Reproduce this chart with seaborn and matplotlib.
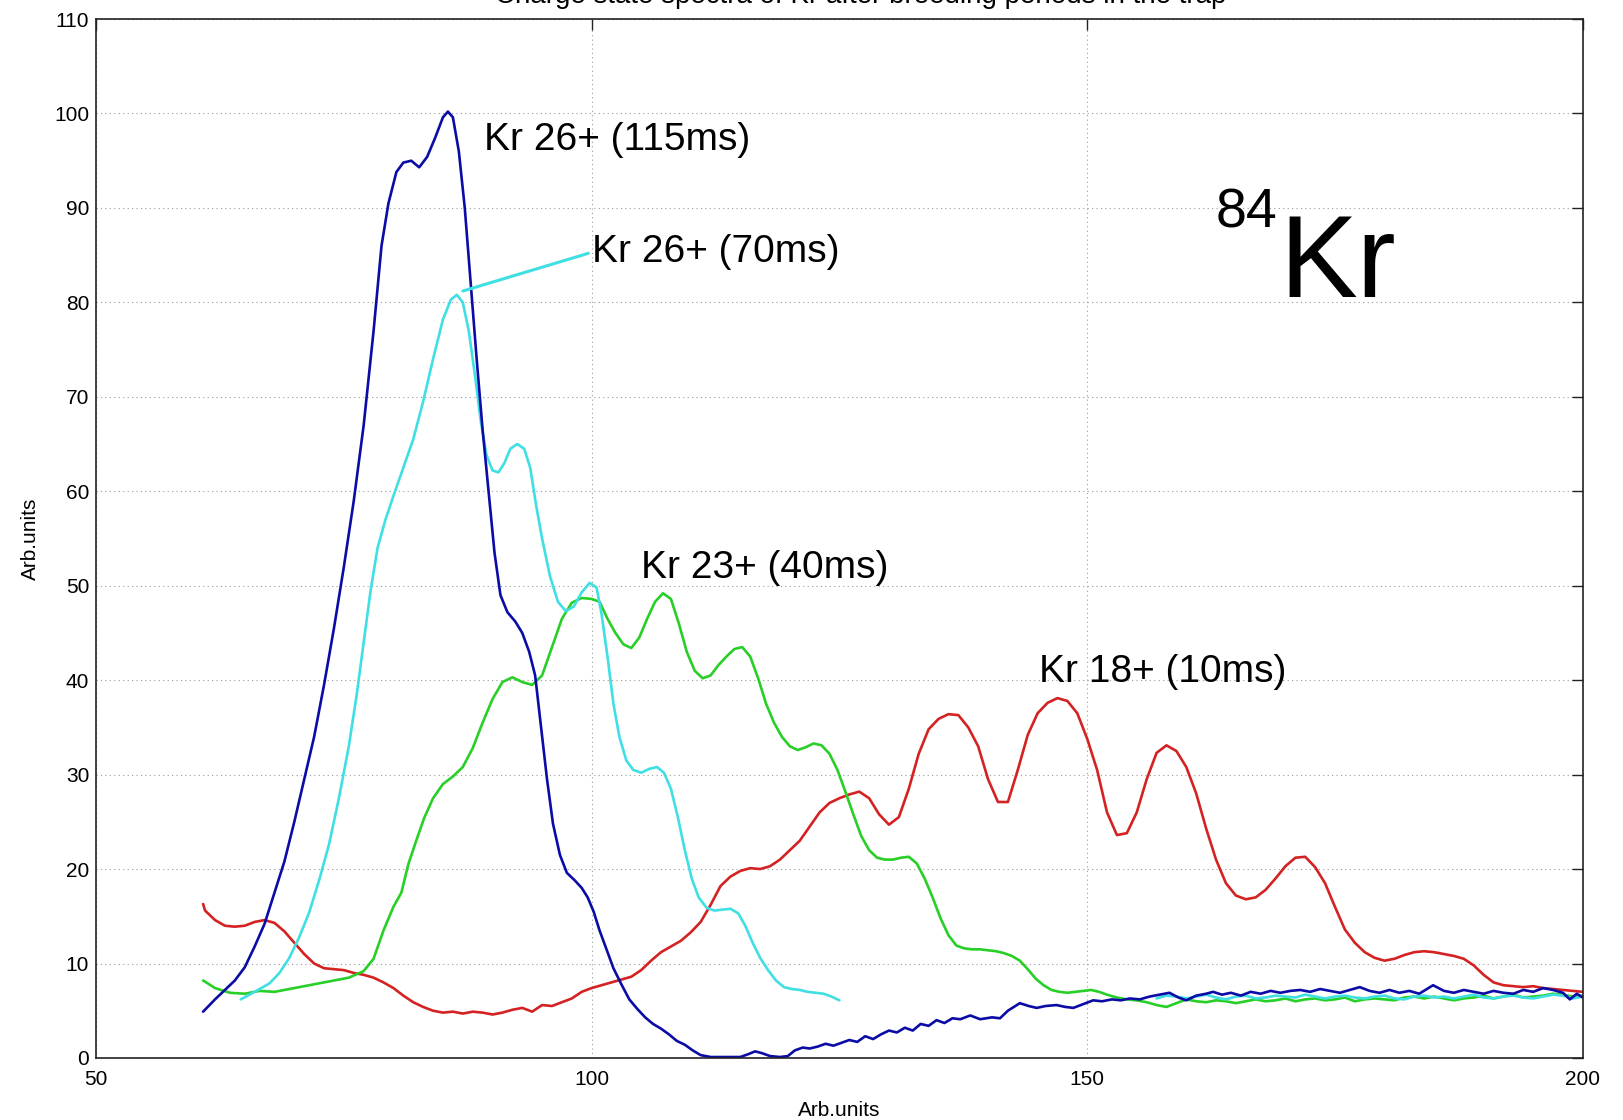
import numpy as np
import pandas as pd
import seaborn as sns
import matplotlib.pyplot as plt

sns.set_style('white')
plt.rcParams['font.family'] = ['Liberation Sans', 'DejaVu Sans']

# ---------------- data, (x, y) pairs ----------------
# Kr 26+ (115ms)  - dark blue
blue_pts = [(60.8, 4.9), (62, 6.2), (63, 7.2), (64, 8.2), (65, 9.6), (66, 11.8), (67, 14.2),
            (68, 17.5), (69, 20.8), (70, 25), (71, 29.5), (72, 34), (73, 39.5), (74, 45.5),
            (75, 52), (76, 59), (77, 67), (78, 77), (78.8, 86), (79.5, 90.5), (80.3, 93.8),
            (81, 94.8), (81.8, 95), (82.6, 94.3), (83.4, 95.4), (84.2, 97.4), (85, 99.6),
            (85.5, 100.2), (86, 99.6), (86.6, 96), (87.2, 90), (87.8, 82), (88.4, 74),
            (89, 66.5), (89.6, 60), (90.2, 53.5), (90.8, 49), (91.5, 47.2), (92.3, 46.2),
            (93, 45), (93.7, 43), (94.3, 40.5), (94.9, 35), (95.5, 29.5), (96.1, 24.8),
            (96.8, 21.5), (97.5, 19.6), (98.3, 18.8), (99, 18), (99.6, 17), (100.2, 15.5),
            (100.8, 13.5), (101.5, 11.5), (102.2, 9.5), (103, 7.8), (103.8, 6.2), (104.6, 5.2),
            (105.4, 4.3), (106.2, 3.6), (107, 3.1), (107.8, 2.5), (108.6, 1.8), (109.4, 1.4),
            (110.2, 0.8), (111, 0.3), (112, 0.1), (113, 0.1), (114, 0.1), (115, 0.1),
            (115.8, 0.4), (116.5, 0.7), (117.2, 0.5), (118, 0.2), (119, 0.1), (119.8, 0.2),
            (120.5, 0.8), (121.3, 1.1), (122, 1.0), (122.8, 1.2), (123.6, 1.5), (124.4, 1.3),
            (125.2, 1.6), (126, 1.9), (126.8, 1.7), (127.6, 2.3), (128.4, 2.0), (129.2, 2.5),
            (130, 2.9), (130.8, 2.7), (131.6, 3.2), (132.4, 2.9), (133.2, 3.6), (134, 3.4),
            (134.8, 4.0), (135.6, 3.7), (136.4, 4.2), (137.2, 4.1), (138.2, 4.5), (139.2, 4.1),
            (140.4, 4.3), (141.2, 4.2), (142, 5.0), (143.2, 5.8), (144.1, 5.5), (144.9, 5.3),
            (145.8, 5.5), (146.9, 5.6), (147.8, 5.4), (148.6, 5.3), (149.6, 5.7), (150.6, 6.1),
            (151.5, 6.0), (152.5, 6.2), (153.4, 6.1), (154.3, 6.3), (155.3, 6.2), (156.3, 6.5),
            (157.3, 6.7), (158.3, 6.9), (159.2, 6.4), (160, 6.1), (161, 6.6), (162, 6.8),
            (162.7, 7.0), (163.6, 6.7), (164.5, 6.9), (165.5, 6.6), (166.5, 7.0), (167.5, 6.8),
            (168.5, 7.1), (169.5, 6.9), (170.5, 7.1), (171.5, 7.2), (172.5, 7.0), (173.5, 7.3),
            (174.5, 7.1), (175.5, 6.9), (176.5, 7.2), (177.5, 7.5), (178.5, 7.1), (179.5, 6.9),
            (180.5, 7.2), (181.5, 6.9), (182.5, 7.1), (183.5, 6.8), (184.9, 7.7), (186, 7.1),
            (187, 6.9), (188, 7.2), (189, 7.0), (190, 6.8), (191, 7.1), (192, 6.9), (193, 6.8),
            (194, 7.2), (195, 7.0), (196, 7.4), (197, 7.2), (198, 6.9), (198.7, 6.2),
            (199.4, 6.8), (200, 6.4)]

# Kr 26+ (70ms)  - cyan, two pieces
cyan_pts = [(64.6, 6.2), (66, 7), (67.5, 7.9), (68.5, 9), (69.5, 10.6), (70.5, 12.8),
            (71.5, 15.4), (72.5, 18.8), (73.5, 22.6), (74.5, 27.5), (75.5, 33), (76.3, 38.5),
            (77, 44), (77.7, 49.5), (78.4, 54), (79.2, 57), (80, 59.5), (81, 62.5), (82, 65.5),
            (83, 69.5), (84, 74), (85, 78.2), (85.8, 80.3), (86.4, 80.8), (87, 80), (87.6, 77),
            (88.2, 72.5), (88.8, 67.5), (89.4, 63.8), (90, 62.2), (90.6, 62), (91.2, 63),
            (91.8, 64.5), (92.5, 65), (93.2, 64.5), (93.8, 62.5), (94.4, 58.5), (95, 55),
            (95.8, 51), (96.6, 48.3), (97.4, 47.3), (98.2, 47.8), (99, 49.3), (99.8, 50.3),
            (100.5, 49.8), (101, 47), (101.6, 42.5), (102.2, 37.5), (102.8, 34), (103.5, 31.5),
            (104.2, 30.5), (105, 30.2), (105.8, 30.6), (106.6, 30.8), (107.3, 30.2), (108, 28.5),
            (108.7, 25.5), (109.4, 22), (110.1, 19), (110.8, 17), (111.6, 15.9), (112.4, 15.6),
            (113.2, 15.7), (114, 15.8), (114.8, 15.3), (115.5, 14), (116.2, 12.3), (117, 10.6),
            (117.8, 9.3), (118.6, 8.2), (119.4, 7.5), (120.2, 7.3), (121, 7.2), (121.8, 7.0),
            (122.6, 6.9), (123.4, 6.8), (124.2, 6.5), (125, 6.1)]
cyan_tail_pts = [(157, 6.3), (158, 6.6), (159, 6.5), (160, 6.3), (161, 6.5), (162, 6.7),
                 (163, 6.4), (164, 6.2), (165, 6.5), (166, 6.6), (167, 6.3), (168, 6.4),
                 (169, 6.6), (170, 6.5), (171, 6.4), (172, 6.7), (173, 6.5), (174, 6.3),
                 (175, 6.5), (176, 6.6), (177, 6.4), (178, 6.3), (179, 6.5), (180, 6.6),
                 (181, 6.3), (182, 6.2), (183, 6.5), (184, 6.6), (185, 6.4), (186, 6.5),
                 (187, 6.3), (188, 6.5), (189, 6.7), (190, 6.4), (191, 6.3), (192, 6.5),
                 (193, 6.6), (194, 6.4), (195, 6.3), (196, 6.5), (197, 6.7), (198, 6.6),
                 (199, 6.3), (200, 6.5)]

# Kr 23+ (40ms)  - green
green_pts = [(60.8, 8.2), (62, 7.4), (63.5, 6.9), (65, 6.8), (66.5, 7.1), (68, 7.0),
             (69.5, 7.3), (71, 7.6), (72.5, 7.9), (74, 8.2), (75.5, 8.5), (77, 9.2), (78, 10.5),
             (79, 13.5), (80, 16), (80.8, 17.5), (81.5, 20.5), (82.3, 23), (83.1, 25.4),
             (84, 27.5), (85, 29), (86, 29.8), (87, 30.8), (88, 32.8), (89, 35.5), (90, 38),
             (91, 39.8), (92, 40.3), (93, 39.8), (94, 39.5), (95, 40.5), (96, 43.5), (97, 46.5),
             (98, 48.2), (99, 48.7), (100, 48.6), (100.8, 48.3), (101.6, 46.5), (102.4, 45),
             (103.2, 43.8), (104, 43.4), (104.8, 44.5), (105.6, 46.5), (106.4, 48.3),
             (107.2, 49.2), (108, 48.6), (108.8, 46), (109.6, 43), (110.4, 41), (111.2, 40.2),
             (112, 40.5), (112.8, 41.6), (113.6, 42.5), (114.4, 43.3), (115.2, 43.5), (116, 42.5),
             (116.8, 40.2), (117.6, 37.5), (118.4, 35.5), (119.2, 34), (120, 33), (120.8, 32.6),
             (121.6, 32.9), (122.4, 33.3), (123.2, 33.1), (124, 32.2), (124.8, 30.5),
             (125.6, 28.2), (126.4, 25.8), (127.2, 23.5), (128, 22), (128.8, 21.2), (129.6, 21),
             (130.4, 21), (131.2, 21.2), (132, 21.3), (132.8, 20.6), (133.6, 19), (134.4, 17),
             (135.2, 14.8), (136, 13), (136.8, 11.9), (137.6, 11.6), (138.4, 11.5), (139.2, 11.5),
             (140, 11.4), (140.8, 11.3), (141.6, 11.1), (142.4, 10.8), (143.2, 10.3), (144, 9.4),
             (144.8, 8.4), (145.6, 7.7), (146.4, 7.2), (147.2, 7.0), (148, 6.9), (148.8, 7.0),
             (149.6, 7.1), (150.4, 7.2), (151.2, 7.0), (152, 6.7), (153, 6.4), (154, 6.2),
             (155, 6.1), (156, 5.9), (157, 5.6), (158, 5.4), (159, 5.8), (160, 6.2), (161, 6.0),
             (162, 5.9), (163, 6.1), (164, 6.0), (165, 5.8), (166, 6.0), (167, 6.2), (168, 6.0),
             (169, 6.1), (170, 6.3), (171, 6.0), (172, 6.2), (173, 6.3), (174, 6.1), (175, 6.2),
             (176, 6.4), (177, 6.0), (178, 6.2), (179, 6.3), (180, 6.2), (181, 6.1), (182, 6.4),
             (183, 6.5), (184, 6.3), (185, 6.5), (186, 6.3), (187, 6.1), (188, 6.3), (189, 6.4),
             (190, 6.6), (191, 6.3), (192, 6.5), (193, 6.7), (194, 6.4), (195, 6.5), (196, 6.6),
             (197, 6.8), (198, 6.7), (199, 6.5), (200, 6.6)]

# Kr 18+ (10ms)  - red
red_x = list(np.arange(61, 201))
red_y = [15.6, 14.6, 14.0, 13.9, 14.0, 14.4, 14.6, 14.3, 13.4, 12.2,            # 61-70
         11.0, 10.0, 9.5, 9.4, 9.3, 9.0, 8.8, 8.5, 8.0, 7.4,                    # 71-80
         6.6, 5.9, 5.4, 5.0, 4.8, 4.9, 4.7, 4.9, 4.8, 4.6,                      # 81-90
         4.8, 5.1, 5.3, 4.9, 5.6, 5.5, 5.9, 6.3, 7.0, 7.4,                      # 91-100
         7.7, 8.0, 8.3, 8.6, 9.3, 10.3, 11.2, 11.8, 12.4, 13.3,                 # 101-110
         14.4, 16.2, 18.2, 19.2, 19.8, 20.1, 20.0, 20.3, 21.0, 22.0,            # 111-120
         23.0, 24.5, 26.0, 27.0, 27.5, 27.9, 28.2, 27.5, 25.8, 24.7,            # 121-130
         25.5, 28.5, 32.2, 34.8, 35.9, 36.4, 36.3, 35.0, 33.0, 29.5,            # 131-140
         27.1, 27.1, 30.5, 34.2, 36.5, 37.6, 38.1, 37.8, 36.5, 33.8,            # 141-150
         30.5, 26.0, 23.6, 23.8, 26.0, 29.5, 32.3, 33.1, 32.5, 30.8,            # 151-160
         28.0, 24.3, 21.0, 18.5, 17.2, 16.8, 17.0, 17.8, 19.0, 20.3,            # 161-170
         21.2, 21.3, 20.2, 18.5, 16.0, 13.6, 12.2, 11.2, 10.6, 10.3,            # 171-180
         10.5, 10.9, 11.2, 11.3, 11.2, 11.0, 10.8, 10.5, 9.8, 8.8,              # 181-190
         8.0, 7.7, 7.6, 7.5, 7.6, 7.4, 7.3, 7.2, 7.1, 7.0]                      # 191-200
red_start = (60.8, 16.3)

labels = ['Kr 26+ (115ms)', 'Kr 26+ (70ms)', 'Kr 23+ (40ms)', 'Kr 18+ (10ms)']
colors = ['#0b0ba6', '#3fdfe4', '#27cf27', '#d42222']
title = 'Charge state spectra of Kr after breeding periods in the trap'

blue = pd.DataFrame(blue_pts, columns=['x', 'y'])
cyan = pd.DataFrame(cyan_pts, columns=['x', 'y'])
cyan_tail = pd.DataFrame(cyan_tail_pts, columns=['x', 'y'])
green = pd.DataFrame(green_pts, columns=['x', 'y'])
red = pd.DataFrame({'x': [red_start[0]] + red_x, 'y': [red_start[1]] + red_y})

# ---------------- figure ----------------
fig = plt.figure(figsize=(16.23, 11.2), dpi=100)
ax = fig.add_axes([0.0592, 0.0554, 0.916, 0.9276])

lw = 1.9
sns.lineplot(data=red, x='x', y='y', color=colors[3], lw=lw, ax=ax, sort=False)
sns.lineplot(data=green, x='x', y='y', color=colors[2], lw=lw, ax=ax, sort=False)
sns.lineplot(data=cyan, x='x', y='y', color=colors[1], lw=lw, ax=ax, sort=False)
sns.lineplot(data=cyan_tail, x='x', y='y', color=colors[1], lw=lw, ax=ax, sort=False)
sns.lineplot(data=blue, x='x', y='y', color=colors[0], lw=lw, ax=ax, sort=False)

ax.set_xlim(50, 200)
ax.set_ylim(0, 110)
ax.set_xticks([50, 100, 150, 200])
ax.set_yticks(np.arange(0, 111, 10))
ax.grid(True, linestyle=(0, (1, 3)), color='#9a9a9a', lw=0.8)
ax.tick_params(direction='in', length=8, width=1, top=True, right=True,
               labelsize=15, colors='#222222', labelcolor='black', pad=5)
ax.tick_params(axis='x', pad=9)
for s in ax.spines.values():
    s.set_color('#222222')
    s.set_linewidth(1.2)
ax.set_xlabel('Arb.units', fontsize=15, labelpad=8, color='black')
ax.set_ylabel('Arb.units', fontsize=15, labelpad=10, color='black')

# curve labels
ax.text(89.1, 97.2, labels[0], fontsize=28, va='center', ha='left', color='black')
ax.annotate(labels[1], xy=(87.0, 81.2), xytext=(100.0, 85.3), fontsize=28,
            va='center', ha='left', color='black',
            arrowprops=dict(arrowstyle='-', color=colors[1], lw=2.2,
                            shrinkA=0, shrinkB=0, relpos=(0, 0.5)))
ax.text(105.0, 51.9, labels[2], fontsize=28, va='center', ha='left', color='black')
ax.text(145.1, 40.9, labels[3], fontsize=28, va='center', ha='left', color='black')

# isotope mark
ax.text(0.753, 0.799, '84', transform=ax.transAxes, fontsize=40, ha='left',
        va='baseline', color='black')
ax.text(0.796, 0.732, 'Kr', transform=ax.transAxes, fontsize=84, ha='left',
        va='baseline', color='black')

# the title sits almost wholly above the top edge of the picture, as in the scan
fig.text(0.53, 1 - 3 / 1120, title, fontsize=20, ha='center', va='baseline',
         color='black')

fig.savefig('out.png', dpi=100)
